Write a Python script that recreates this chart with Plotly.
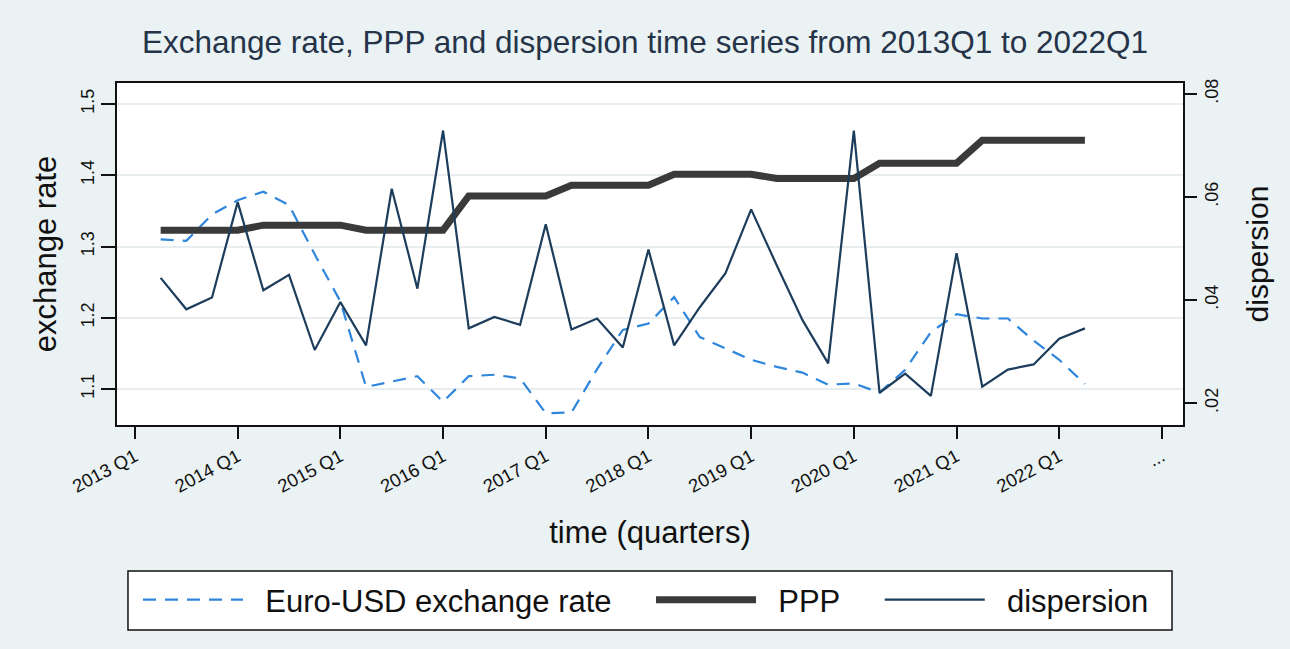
import plotly.graph_objects as go

# ---- data ----
quarters = ["2013Q2", "2013Q3", "2013Q4", "2014Q1", "2014Q2", "2014Q3", "2014Q4",
            "2015Q1", "2015Q2", "2015Q3", "2015Q4", "2016Q1", "2016Q2", "2016Q3",
            "2016Q4", "2017Q1", "2017Q2", "2017Q3", "2017Q4", "2018Q1", "2018Q2",
            "2018Q3", "2018Q4", "2019Q1", "2019Q2", "2019Q3", "2019Q4", "2020Q1",
            "2020Q2", "2020Q3", "2020Q4", "2021Q1", "2021Q2", "2021Q3", "2021Q4",
            "2022Q1", "2022Q2"]

exchange_rate = [1.310, 1.308, 1.345, 1.365, 1.377, 1.358, 1.289, 1.223, 1.103, 1.111,
                 1.118, 1.082, 1.118, 1.120, 1.115, 1.066, 1.067, 1.128, 1.183, 1.192,
                 1.229, 1.173, 1.157, 1.141, 1.131, 1.123, 1.106, 1.108, 1.095, 1.127,
                 1.180, 1.205, 1.199, 1.199, 1.168, 1.141, 1.107]

ppp = [1.323, 1.323, 1.323, 1.323, 1.330, 1.330, 1.330, 1.330, 1.323, 1.323,
       1.323, 1.323, 1.371, 1.371, 1.371, 1.371, 1.386, 1.386, 1.386, 1.386,
       1.4015, 1.4015, 1.4015, 1.4015, 1.3955, 1.3955, 1.3955, 1.3955, 1.417, 1.417,
       1.417, 1.417, 1.449, 1.449, 1.449, 1.449, 1.449]

dispersion = [0.0443, 0.0382, 0.0405, 0.0590, 0.0419, 0.0449, 0.0303, 0.0396, 0.0312, 0.0616,
              0.0422, 0.0729, 0.0345, 0.0367, 0.0352, 0.0547, 0.0343, 0.0364, 0.0308, 0.0498,
              0.0312, 0.0386, 0.0452, 0.0576, 0.0467, 0.0361, 0.0277, 0.0729, 0.0220, 0.0257,
              0.0214, 0.0491, 0.0232, 0.0265, 0.0275, 0.0325, 0.0345]

series_names = ["Euro-USD exchange rate", "PPP", "dispersion"]

x_tick_labels = ["2013 Q1", "2014 Q1", "2015 Q1", "2016 Q1", "2017 Q1", "2018 Q1",
                 "2019 Q1", "2020 Q1", "2021 Q1", "2022 Q1", "..."]
left_tick_vals = [1.1, 1.2, 1.3, 1.4, 1.5]
left_tick_labels = ["1.1", "1.2", "1.3", "1.4", "1.5"]
right_tick_vals = [0.02, 0.04, 0.06, 0.08]
right_tick_labels = [".02", ".04", ".06", ".08"]

# quarter index relative to 2013Q1
x = [(int(q[:4]) - 2013) * 4 + int(q[5]) - 1 for q in quarters]
x_tick_vals = [4 * i for i in range(len(x_tick_labels))]

FONT = "Liberation Sans, Arial, sans-serif"
BG = "#eaf2f3"
NB = "\u00a0"


def legend_name(s):
    return NB * 2 + s + NB * 4


fig = go.Figure()
fig.add_trace(go.Scatter(
    x=x, y=exchange_rate, mode="lines", name=legend_name(series_names[0]),
    line=dict(color="#2f86dc", width=2.2, dash="13px,9px")))
fig.add_trace(go.Scatter(
    x=x, y=ppp, mode="lines", name=legend_name(series_names[1]),
    line=dict(color="#3a3a3a", width=7)))
fig.add_trace(go.Scatter(
    x=x, y=dispersion, mode="lines", name=legend_name(series_names[2]), yaxis="y2",
    line=dict(color="#1d3d5c", width=2.2)))

# legend frame
fig.add_shape(type="rect", xref="paper", yref="paper",
              x0=0.0103, x1=0.9897, y0=-0.5994, y1=-0.4269,
              line=dict(color="#111111", width=1.5), fillcolor="white", layer="below")

fig.update_layout(
    width=1290, height=649,
    paper_bgcolor=BG, plot_bgcolor="white",
    margin=dict(l=117, r=107, t=83, b=224),
    font=dict(family=FONT, color="#111111"),
    title=dict(text="Exchange rate, PPP and dispersion time series from 2013Q1 to 2022Q1",
               x=0.5, xanchor="center", y=0.935, yanchor="middle",
               font=dict(size=31.5, color="#26344a", family=FONT)),
    showlegend=True,
    legend=dict(orientation="h", x=0.0197, y=-0.5117, xanchor="left", yanchor="middle",
                bgcolor="rgba(0,0,0,0)", borderwidth=0,
                font=dict(size=31, family=FONT, color="#111111"),
                itemwidth=100, tracegroupgap=0),
    xaxis=dict(range=[-0.70, 40.82], tickmode="array", tickvals=x_tick_vals,
               ticktext=x_tick_labels, tickangle=-28, ticks="outside", ticklen=12,
               tickwidth=1.5, tickcolor="#111111", tickfont=dict(size=18.5),
               showline=True, linecolor="#111111", linewidth=1.5, mirror=True,
               showgrid=False, zeroline=False,
               title=dict(text="time (quarters)", font=dict(size=31), standoff=26)),
    yaxis=dict(range=[1.0495, 1.5295], tickmode="array", tickvals=left_tick_vals,
               ticktext=left_tick_labels, tickangle=-90, ticks="outside", ticklen=14,
               tickwidth=1.5, tickcolor="#111111", tickfont=dict(size=18),
               showline=True, linecolor="#111111", linewidth=1.5,
               showgrid=True, gridcolor="#e8eef0", gridwidth=1.5, zeroline=False,
               title=dict(text="exchange rate", font=dict(size=31), standoff=12)),
    yaxis2=dict(range=[0.01574, 0.08213], overlaying="y", side="right",
                tickmode="array", tickvals=right_tick_vals, ticktext=right_tick_labels,
                tickangle=-90, ticks="outside", ticklen=12, tickwidth=1.5,
                tickcolor="#111111", tickfont=dict(size=18),
                showline=True, linecolor="#111111", linewidth=1.5,
                showgrid=False, zeroline=False,
                title=dict(text="dispersion", font=dict(size=30), standoff=26)),
)

fig.write_html("out.html")
